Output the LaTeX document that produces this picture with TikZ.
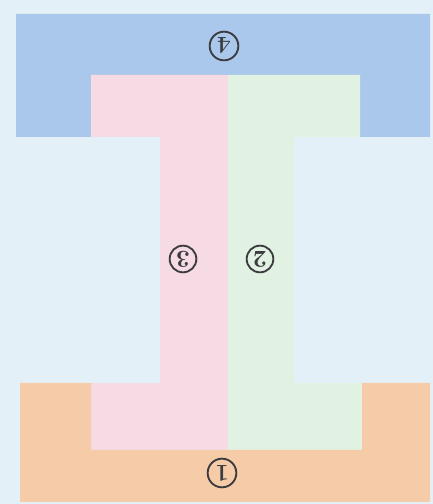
\documentclass[tikz,border=0pt]{standalone}
\usepackage{tikz}
\definecolor{ibg}{RGB}{228,240,248}
\definecolor{iblue}{RGB}{170,200,236}
\definecolor{ipink}{RGB}{246,218,228}
\definecolor{igreen}{RGB}{226,242,226}
\definecolor{iorange}{RGB}{246,204,168}
\definecolor{inum}{RGB}{60,60,64}

\begin{document}
\begin{tikzpicture}[
  x=0.03cm,y=0.03cm,
  part/.style={draw=none},
  num/.style={circle,draw=inum,line width=1.6pt,inner sep=0.5pt,minimum size=0.86cm,
    font=\huge\bfseries,text=inum,rotate=180},
  numsm/.style={num,minimum size=0.8cm}
]
  % Background
  \fill[ibg] (0,0) rectangle (433,504);
  \useasboundingbox (0,0) rectangle (433,504);
  % Top block (4)
  \fill[iblue,part] (16,490) -- (430,490) -- (430,367) -- (360,367) -- (360,429)
    -- (91,429) -- (91,367) -- (16,367) -- cycle;
  % Left half (3)
  \fill[ipink,part] (91,429) -- (228,429) -- (228,54) -- (91,54) -- (91,121)
    -- (160,121) -- (160,367) -- (91,367) -- cycle;
  % Right half (2)
  \fill[igreen,part] (228,429) -- (360,429) -- (360,367) -- (294,367) -- (294,121)
    -- (362,121) -- (362,54) -- (228,54) -- cycle;
  % Bottom block (1)
  \fill[iorange,part] (20,121) -- (91,121) -- (91,54) -- (362,54) -- (362,121)
    -- (430,121) -- (430,2) -- (20,2) -- cycle;
  % Labels
  \node[num] (n4) at (224,458) {4};
  \node[numsm] (n3) at (183,245) {3};
  \node[numsm] (n2) at (260,245) {2};
  \node[num] (n1) at (222,31) {1};
\end{tikzpicture}
\end{document}
